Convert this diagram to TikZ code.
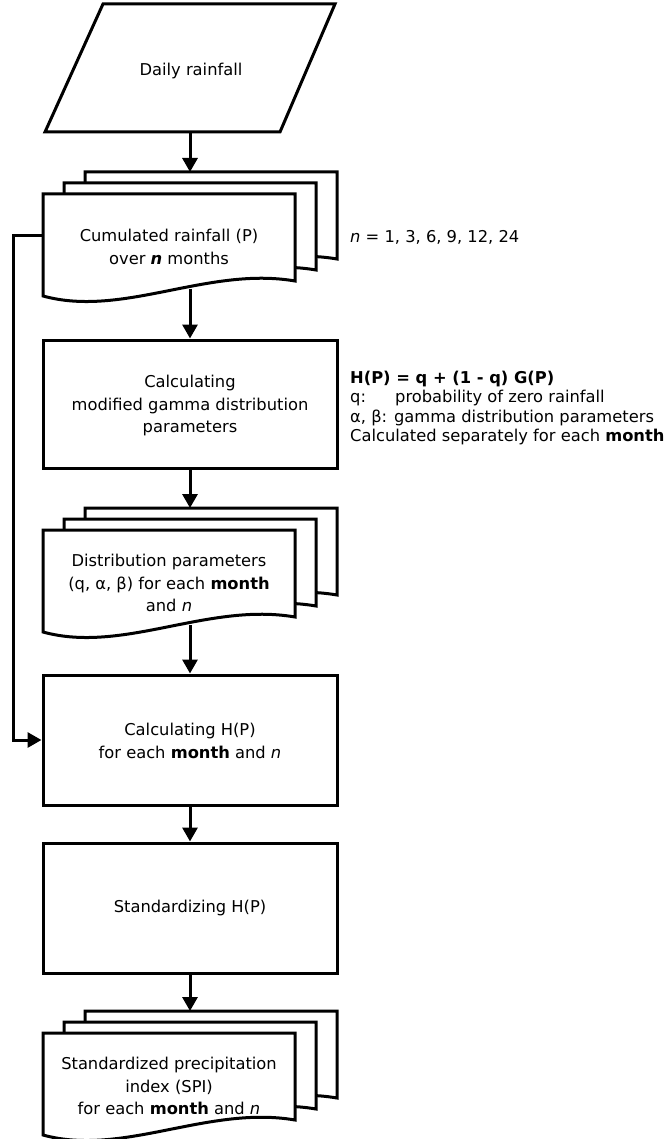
\documentclass[tikz,border=0pt]{standalone}
\usepackage{fontspec}
\setmainfont{DejaVu Sans}
\usetikzlibrary{arrows.meta}
\newcommand\docstack[2]{%
  \foreach \d in {2,1,0}{%
    \begin{scope}[shift={(#1+21*\d,#2-11*\d)}]
      \draw[shp] (0,0) -- (252,0) -- (252,87) .. controls (165,72) and (80,124) .. (0,102) -- cycle;
    \end{scope}}}
\begin{document}
\begin{tikzpicture}[x=1pt,y=-1pt,
  line join=miter,
  shp/.style={draw=black, fill=white, line width=3pt},
  box/.style={draw=black, fill=white, line width=3pt, minimum width=294pt, inner sep=0pt},
  arr/.style={-{Triangle[width=15pt,length=14pt]}, line width=3pt},
  txt/.style={align=center, font=\fontsize{16.3}{22.5}\selectfont, inner sep=0pt},
  sidel/.style={anchor=base west, font=\fontsize{16.3}{19}\selectfont, inner sep=0pt}]
\useasboundingbox (0,0) rectangle (670,1139);

% input parallelogram
\draw[shp] (103,4) -- (335,4) -- (280,132) -- (45,132) -- cycle;
\node[txt] (daily) at (191,71) {Daily rainfall};
\coordinate (dailyB) at (190,132);

% document stack 1
\docstack{43}{194}
\node[txt] (cum) at (169,247) {Cumulated rainfall (P)\\over \textbf{\textit{n}} months};
\coordinate (d1top) at (190,172);
\coordinate (d1bot) at (190,289);
\coordinate (d1left) at (43,236);
\node[sidel, anchor=west] (nlist) at (350,237) {\textit{n} = 1, 3, 6, 9, 12, 24};

% box 2
\node[box, minimum height=128pt] (calc) at (190,404) {};
\node[txt] (calct) at (190,406) {Calculating\\modified gamma distribution\\parameters};

\node[sidel] (s1) at (350,383) {\textbf{H(P) = q + (1 - q) G(P)}};
\node[sidel] (s2) at (350,402.5) {q:};
\node[sidel] (s2b) at (395,402.5) {probability of zero rainfall};
\node[sidel] (s3) at (350,422) {α, β: gamma distribution parameters};
\node[sidel] (s4) at (350,441.5) {Calculated separately for each \textbf{month}};

% document stack 2
\docstack{43}{530}
\node[txt] (dist) at (169,583) {Distribution parameters\\(q, α, β) for each \textbf{month}\\and \textit{n}};
\coordinate (d2top) at (190,508);
\coordinate (d2bot) at (190,625);

% box 4
\node[box, minimum height=130pt] (hcalc) at (190,740) {};
\node[txt] (hcalct) at (190,741) {Calculating H(P)\\for each \textbf{month} and \textit{n}};

% box 5
\node[box, minimum height=130pt] (std) at (190,908) {};
\node[txt] (stdt) at (190,908) {Standardizing H(P)};

% document stack 3
\docstack{43}{1033}
\node[txt] (spi) at (169,1086) {Standardized precipitation\\index (SPI)\\for each \textbf{month} and \textit{n}};
\coordinate (d3top) at (190,1011);

% connectors
\coordinate (lc) at (13,236);
\draw[arr] (dailyB) -- (d1top);
\draw[arr] (d1bot) -- (calc.north);
\draw[arr] (calc.south) -- (d2top);
\draw[arr] (d2bot) -- (hcalc.north);
\draw[arr] (hcalc.south) -- (std.north);
\draw[arr] (std.south) -- (d3top);
\draw[arr] (d1left) -- (lc) |- (hcalc.west);
\end{tikzpicture}
\end{document}
